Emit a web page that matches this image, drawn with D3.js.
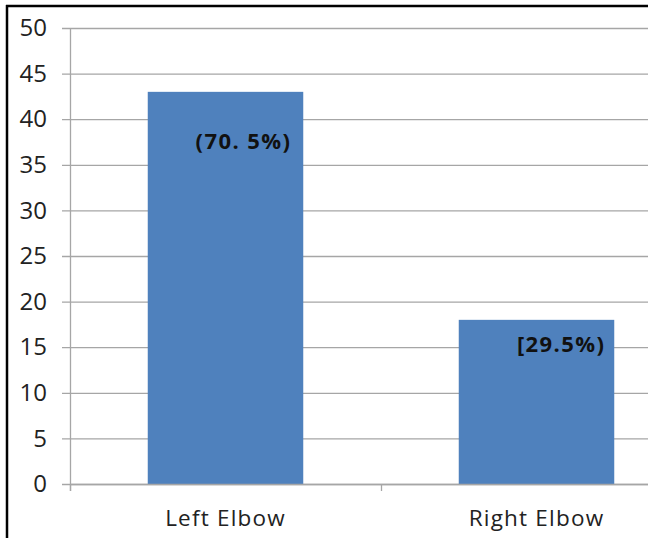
<!DOCTYPE html>
<html><head><meta charset="utf-8">
<script src="https://cdn.jsdelivr.net/npm/d3@7"></script>
<style>body{margin:0;background:#fff}svg{display:block}</style>
</head><body>
<svg id="c" width="648" height="538"></svg>
<script>
const categories = ["Left Elbow", "Right Elbow"];
const values = [43, 18];
const valueLabels = ["(70. 5%)", "[29.5%)"];
const yTicks = [0, 5, 10, 15, 20, 25, 30, 35, 40, 45, 50];

const svg = d3.select("#c");
const font = "'Open Sans', sans-serif";
const x0 = 70, x1 = 692, yTop = 28, yBot = 484;

// border
svg.append("line").attr("x1", 6).attr("x2", 648).attr("y1", 6).attr("y2", 6).attr("stroke", "#000").attr("stroke-width", 2.5);
svg.append("line").attr("x1", 7).attr("x2", 7).attr("y1", 5).attr("y2", 538).attr("stroke", "#000").attr("stroke-width", 2.5);

const y = d3.scaleLinear().domain([0, 50]).range([yBot, yTop]);
const x = d3.scaleBand().domain(categories).range([x0, x1]).paddingInner(0.5).paddingOuter(0.25);

// gridlines
svg.append("g").selectAll("line").data(yTicks).join("line")
  .attr("x1", x0 - 8).attr("x2", 648)
  .attr("y1", d => y(d) + 0.5).attr("y2", d => y(d) + 0.5)
  .attr("stroke", "#a6a6a6").attr("stroke-width", 1.3);

// y labels
svg.append("g").selectAll("text").data(yTicks).join("text")
  .attr("x", 47).attr("y", d => y(d)).attr("dy", "0.34em")
  .attr("text-anchor", "end").attr("font-family", font).attr("font-size", 24).attr("fill", "#222")
  .text(d => d);

// bars
svg.append("g").selectAll("rect").data(values).join("rect")
  .attr("x", (d, i) => x(categories[i])).attr("width", x.bandwidth())
  .attr("y", d => y(d)).attr("height", d => y(0) - y(d))
  .attr("fill", "#4f81bd");

// y axis line
svg.append("line").attr("x1", x0 + 0.5).attr("x2", x0 + 0.5).attr("y1", yTop).attr("y2", yBot + 7).attr("stroke", "#a6a6a6").attr("stroke-width", 1.3);
// x axis line + ticks
svg.append("line").attr("x1", x0).attr("x2", 648).attr("y1", yBot + 0.5).attr("y2", yBot + 0.5).attr("stroke", "#a6a6a6").attr("stroke-width", 1.3);
const step = (x1 - x0) / categories.length;
svg.append("g").selectAll("line").data(d3.range(categories.length + 1)).join("line")
  .attr("x1", i => x0 + i * step + 0.5).attr("x2", i => x0 + i * step + 0.5)
  .attr("y1", yBot).attr("y2", yBot + 7).attr("stroke", "#a6a6a6").attr("stroke-width", 1.3);

// x labels
svg.append("g").selectAll("text").data(categories).join("text")
  .attr("x", d => x(d) + x.bandwidth() / 2).attr("y", 526)
  .attr("text-anchor", "middle").attr("font-family", font).attr("font-size", 22.5)
  .attr("letter-spacing", 1.2).attr("fill", "#222")
  .text(d => d);

// value labels (placed by hand in the original, so offsets differ)
const dyOff = [57, 32], dxOff = [12, 9];
svg.append("g").selectAll("text").data(values).join("text")
  .attr("x", (d, i) => x(categories[i]) + x.bandwidth() - dxOff[i])
  .attr("y", (d, i) => y(d) + dyOff[i])
  .attr("text-anchor", "end").attr("font-family", font).attr("font-weight", "bold").attr("font-size", 22)
  .attr("letter-spacing", 1.4).attr("fill", "#111")
  .text((d, i) => valueLabels[i]);
</script>
</body></html>
